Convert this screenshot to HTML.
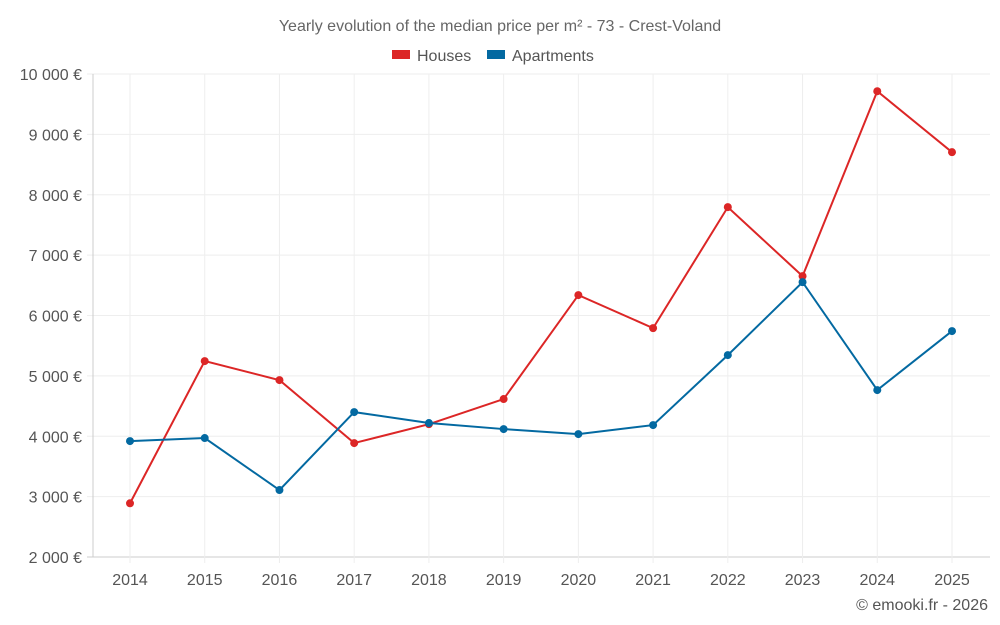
<!DOCTYPE html>
<html><head><meta charset="utf-8"><style>
body{margin:0;background:#fff;font-family:"Liberation Sans",sans-serif;}
svg{display:block}
</style></head><body>
<svg id="chart" width="1000" height="625">
<text x="500" y="31" text-anchor="middle" font-size="16" fill="#666">Yearly evolution of the median price per m² - 73 - Crest-Voland</text>
<g>
<g><rect x="392" y="50" width="18" height="9" fill="#dc2626"/><text x="417" y="61" font-size="16" fill="#555">Houses</text></g>
<g><rect x="487" y="50" width="18" height="9" fill="#0369a1"/><text x="512" y="61" font-size="16" fill="#555">Apartments</text></g>
</g>
<g id="grid"></g><g id="series"></g>
<text x="988" y="610" text-anchor="end" font-size="16" fill="#555">© emooki.fr - 2026</text>
</svg>
<script>
const years=[2014,2015,2016,2017,2018,2019,2020,2021,2022,2023,2024,2025];
const houses=[2890,5245,4930,3887,4200,4616,6338,5791,7795,6652,9715,8705];
const apartments=[3920,3970,3109,4400,4219,4119,4036,4185,5344,6553,4765,5742];
const yTicks=[2000,3000,4000,5000,6000,7000,8000,9000,10000];
const yTickLabels=["2 000 €","3 000 €","4 000 €","5 000 €","6 000 €","7 000 €","8 000 €","9 000 €","10 000 €"];
const NS="http://www.w3.org/2000/svg";
const L=93,R=990,T=74,B=557;
const x=i=>130+i*(952-130)/(years.length-1);
const y=v=>B-(v-2000)/8000*(B-T);
const g=document.getElementById('grid'),s=document.getElementById('series');
function mk(tag,at,par){const e=document.createElementNS(NS,tag);for(const k in at)e.setAttribute(k,at[k]);par.appendChild(e);return e;}
yTicks.forEach((v,i)=>{
 const ln=mk('line',{x1:L-6,x2:R,y1:y(v),y2:y(v),stroke:i==0?'#ccc':'#eee'},g);
 
 
 const t=mk('text',{x:82,y:y(v)+6,'text-anchor':'end','font-size':16,fill:'#555'},g);t.textContent=yTickLabels[i];
 
 
});
years.forEach((yr,i)=>{
 const ln=mk('line',{x1:x(i),x2:x(i),y1:T,y2:B+6,stroke:'#eee'},g);
 
 
 const t=mk('text',{x:x(i),y:585,'text-anchor':'middle','font-size':16,fill:'#555'},g);t.textContent=yr;
 
 
});
mk('line',{x1:L,x2:L,y1:T,y2:B,stroke:'#ccc'},g);
function draw(data,color,name){
 const p=mk('polyline',{points:data.map((v,i)=>x(i)+','+y(v)).join(' '),fill:'none',stroke:color,'stroke-width':2},s);
 
 
 data.forEach((v,i)=>{const c=mk('circle',{cx:x(i),cy:y(v),r:4,fill:color},s);
  
  });
}
draw(houses,'#dc2626','houses');
draw(apartments,'#0369a1','apartments');
</script>
</body></html>
